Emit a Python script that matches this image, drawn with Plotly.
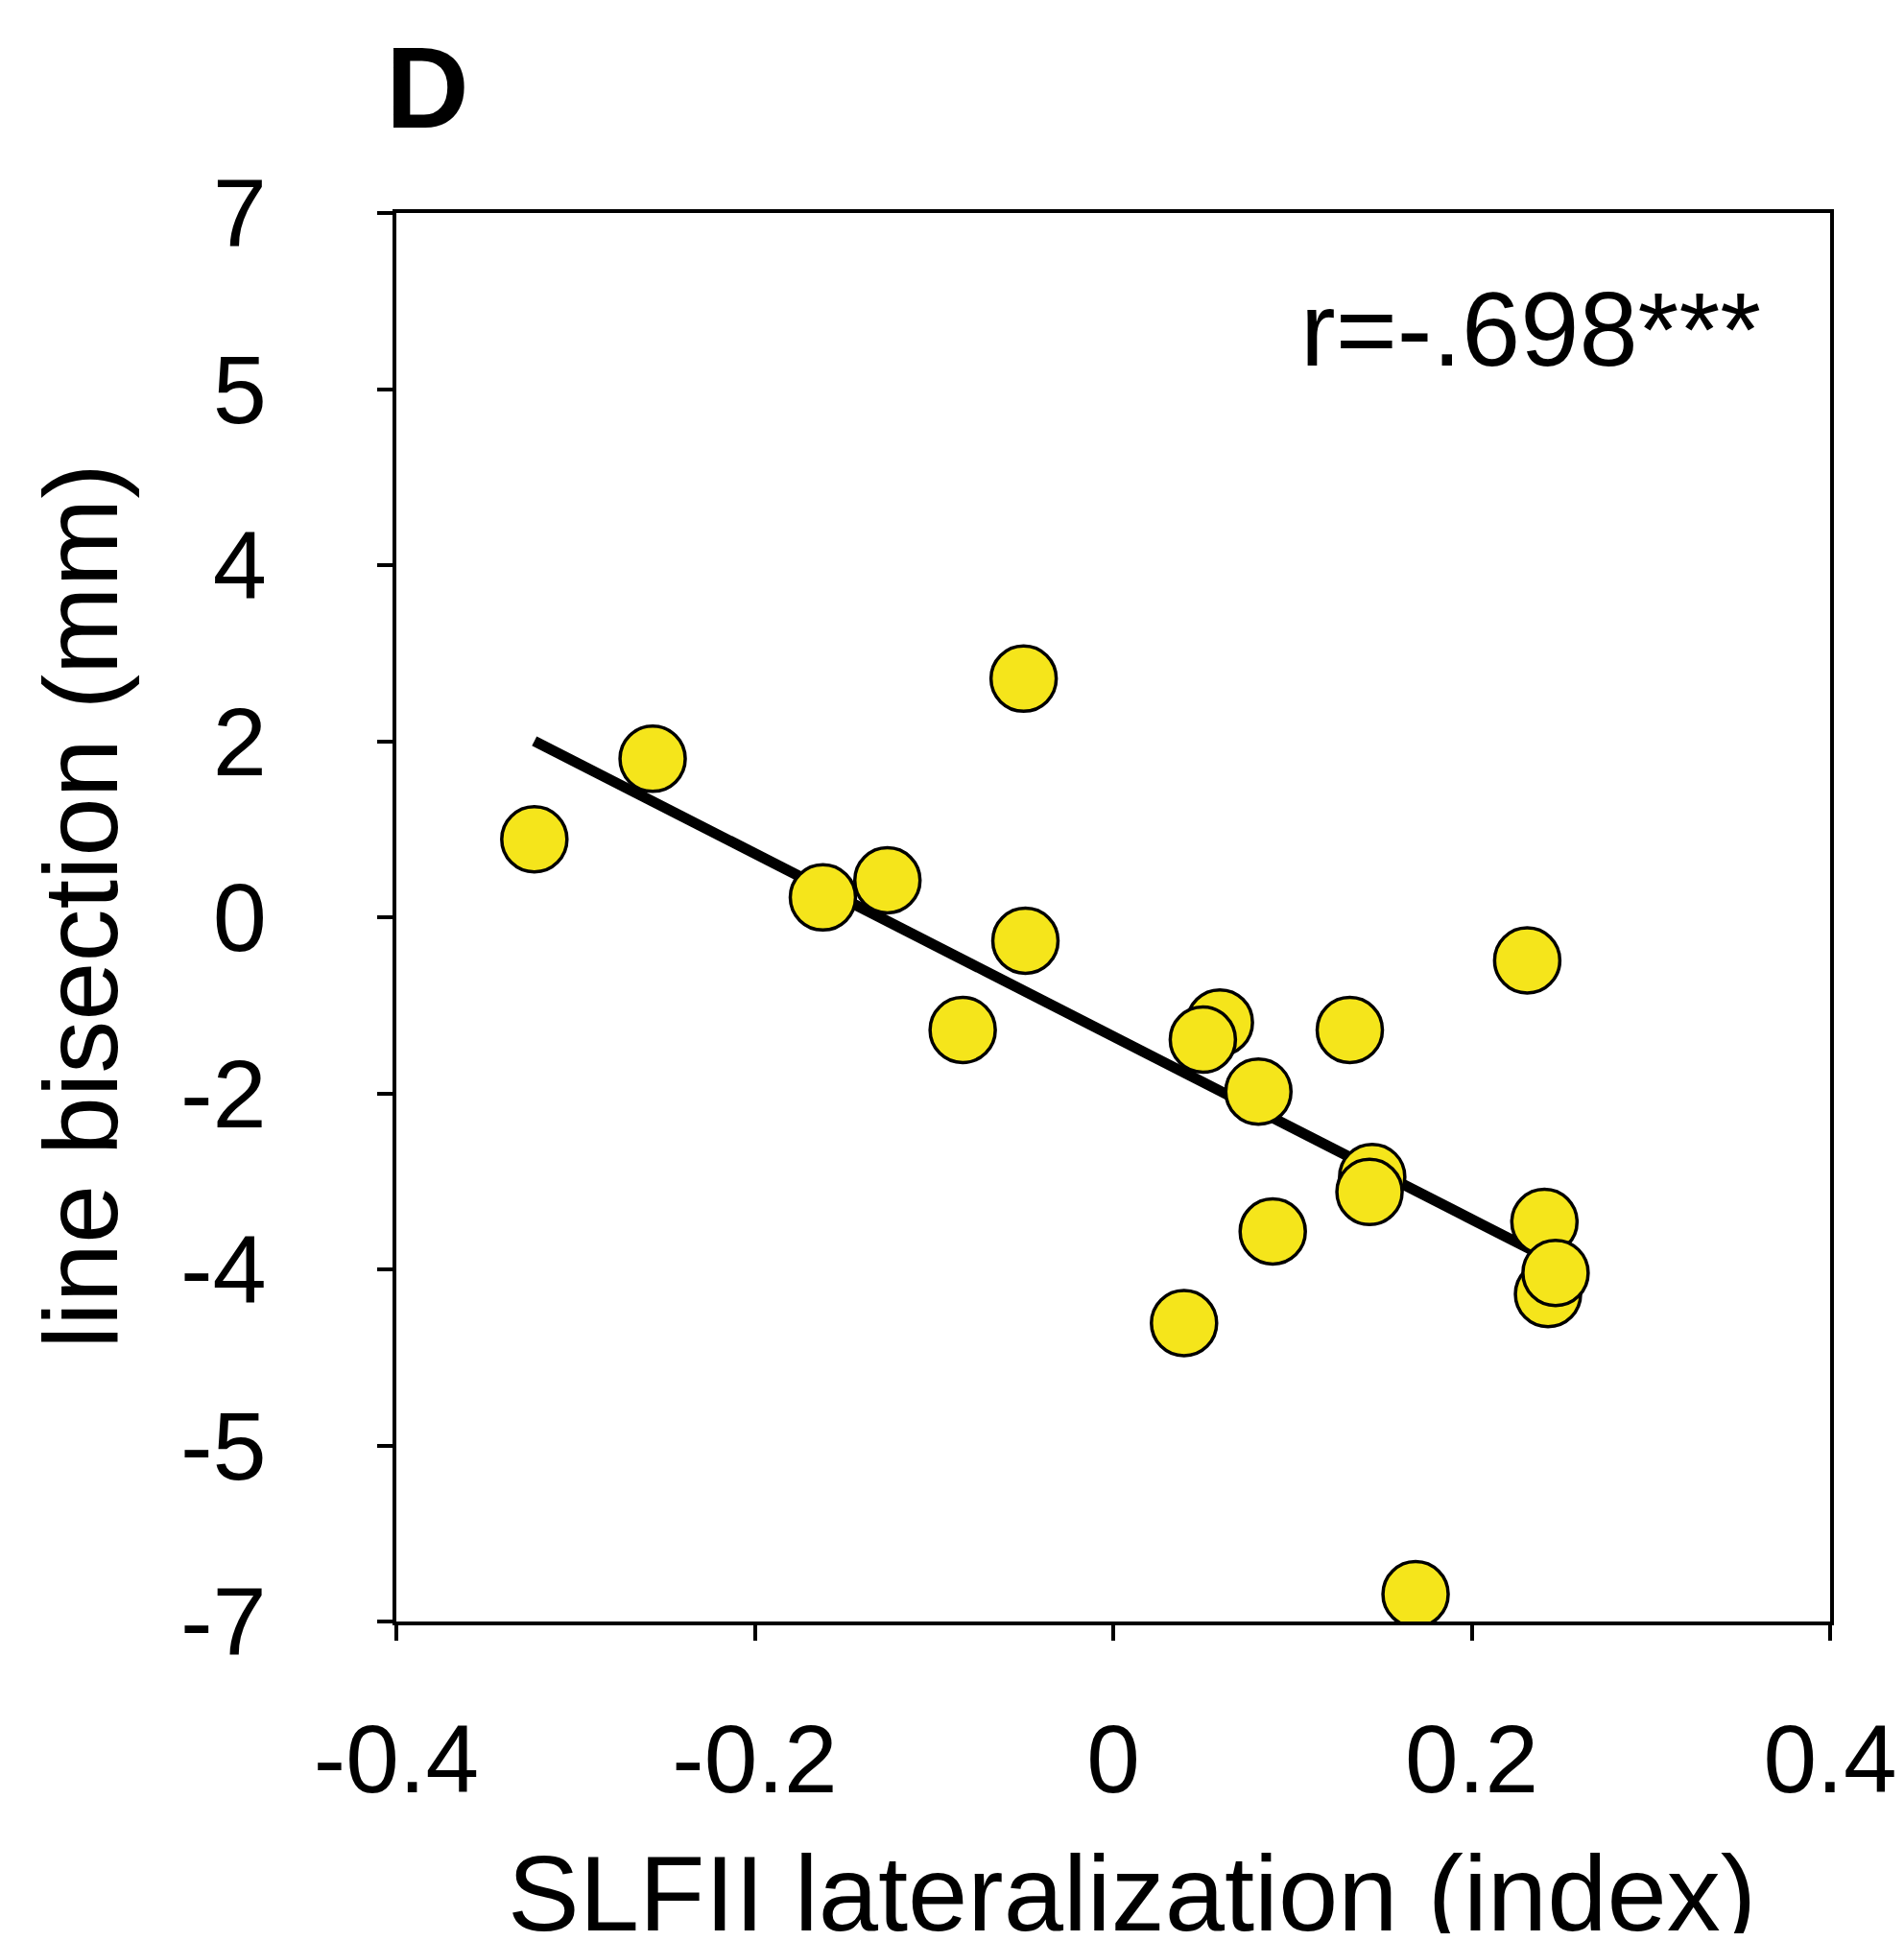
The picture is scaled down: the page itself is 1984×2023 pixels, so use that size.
import numpy as np
import plotly.graph_objects as go

# SLFII lateralization (index)
slf_x = [-0.323, -0.257, -0.050, -0.162, -0.126, -0.049, -0.084, 0.0595, 0.050, 0.081,
         0.132, 0.231, 0.1445, 0.143, 0.089, 0.0395, 0.2406, 0.2426, 0.2468, 0.1687]
# line bisection (mm), in axis units
bis_y = [0.886, 1.80, 2.71, 0.225, 0.42, -0.267, -1.28, -1.195, -1.39, -1.98,
         -1.28, -0.49, -2.95, -3.12, -3.57, -4.61, -3.46, -4.28, -4.04, -7.69]

y_tickvals = [8, 6, 4, 2, 0, -2, -4, -6, -8]
y_ticktext = ["7", "5", "4", "2", "0", "-2", "-4", "-5", "-7"]
x_tickvals = [-0.4, -0.2, 0, 0.2, 0.4]
x_ticktext = ["-0.4", "-0.2", "0", "0.2", "0.4"]

r_label = "r=-.698***"
panel_label = "<b>D</b>"

xa = np.array(slf_x)
ya = np.array(bis_y)
slope, intercept = np.polyfit(xa, ya, 1)
fit_x = np.array([xa.min(), xa.max()])
fit_y = slope * fit_x + intercept

FONT = "Liberation Sans, Arial, Helvetica, sans-serif"

fig = go.Figure()
fig.add_trace(go.Scatter(x=fit_x, y=fit_y, mode="lines",
                         line=dict(color="black", width=11), showlegend=False))
fig.add_trace(go.Scatter(x=slf_x, y=bis_y, mode="markers",
                         marker=dict(size=68, color="#F5E51B",
                                     line=dict(color="black", width=3.5)),
                         showlegend=False))

fig.update_layout(
    width=1968, height=2007,
    margin=dict(l=405, r=69, t=214, b=325, autoexpand=False),
    paper_bgcolor="white", plot_bgcolor="white",
    font=dict(family=FONT, color="black"),
    xaxis=dict(range=[-0.4, 0.4], tickvals=x_tickvals, ticktext=x_ticktext,
               showline=True, linecolor="black", linewidth=4, mirror=True,
               ticks="outside", ticklen=16, tickwidth=4, tickcolor="black",
               showgrid=False, zeroline=False, ticklabeloverflow="allow",
               automargin=False,
               tickfont=dict(size=100, family=FONT), ticklabelstandoff=38),
    yaxis=dict(range=[-8, 8], tickvals=y_tickvals, ticktext=y_ticktext,
               showline=True, linecolor="black", linewidth=4, mirror=True,
               ticks="outside", ticklen=16, tickwidth=4, tickcolor="black",
               showgrid=False, zeroline=False, automargin=False,
               tickfont=dict(size=101, family=FONT), ticklabelstandoff=95),
)

fig.add_annotation(text="SLFII lateralization (index)", xref="paper", yref="paper",
                   x=0.513, y=-0.193, xanchor="center", yanchor="middle",
                   showarrow=False, font=dict(size=112, family=FONT))
fig.add_annotation(text="line bisection (mm)", xref="paper", yref="paper",
                   x=-0.221, y=0.508, xanchor="center", yanchor="middle",
                   textangle=-90, showarrow=False, font=dict(size=110, family=FONT))
fig.add_annotation(text=r_label, xref="paper", yref="paper",
                   x=0.953, y=0.918, xanchor="right", yanchor="middle",
                   showarrow=False, font=dict(size=110, family=FONT))
fig.add_annotation(text=panel_label, xref="paper", yref="paper",
                   x=-0.009, y=1.089, xanchor="left", yanchor="middle",
                   showarrow=False, font=dict(size=120, family=FONT))

fig.write_html("out.html")
